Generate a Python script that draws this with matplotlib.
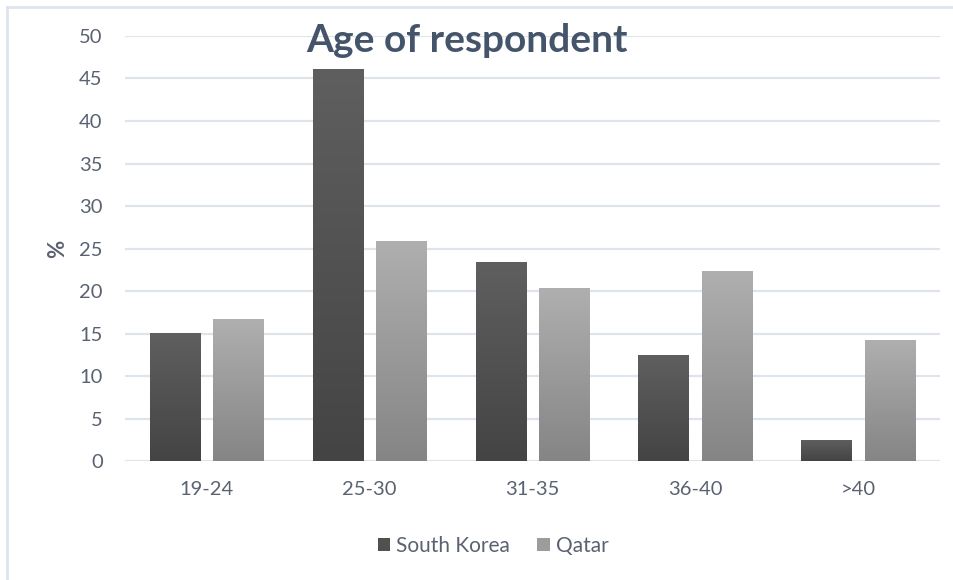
import numpy as np
import matplotlib
matplotlib.use("Agg")
import matplotlib.pyplot as plt
from matplotlib.lines import Line2D
from matplotlib.patches import Patch
from matplotlib.colors import LinearSegmentedColormap

plt.rcParams['font.family'] = ['Lato', 'DejaVu Sans']

# 数据
categories = ["19-24", "25-30", "31-35", "36-40", ">40"]
south_korea = [15.1, 46.1, 23.4, 12.5, 2.5]
qatar = [16.7, 25.9, 20.3, 22.4, 14.3]

TEXT = "#5a6272"
GRID = "#dfe4ec"

fig = plt.figure(figsize=(9.54, 5.8), dpi=100)
ax = fig.add_axes([0.131, 0.205, 0.854, 0.733])

x = np.arange(len(categories))
w = 0.307
off = 0.195

cm_sk = LinearSegmentedColormap.from_list("sk", ["#444444", "#5f5f5f"])
cm_qa = LinearSegmentedColormap.from_list("qa", ["#858585", "#afafaf"])
grad = np.linspace(0, 1, 256).reshape(-1, 1)

def grad_bars(xs, vals, cmap):
    bars = ax.bar(xs, vals, width=w, facecolor="none", edgecolor="none", zorder=3)
    for b in bars:
        x0, y0 = b.get_x(), b.get_y()
        im = ax.imshow(grad, cmap=cmap, origin="lower", aspect="auto",
                       extent=[x0, x0 + b.get_width(), y0, y0 + b.get_height()],
                       zorder=3, interpolation="bicubic")
        im.set_clip_path(b)
    return bars

grad_bars(x - off, south_korea, cm_sk)
grad_bars(x + off, qatar, cm_qa)

ax.set_xlim(-0.5, len(categories) - 0.5)
ax.set_ylim(0, 50)
ax.set_yticks(range(0, 51, 5))
ax.set_xticks(x)
ax.set_xticklabels(categories)
ax.yaxis.grid(True, color=GRID, linewidth=1.6, zorder=0)
ax.set_axisbelow(True)
for s in ax.spines.values():
    s.set_visible(False)
ax.tick_params(length=0, labelsize=14.5, colors=TEXT)
ax.tick_params(axis="x", pad=14)
ax.tick_params(axis="y", pad=16)
ax.set_ylabel("%", fontsize=16, fontweight="bold", color=TEXT, labelpad=8)

fig.text(0.49, 0.93, "Age of respondent", ha="center", va="center",
         fontsize=28, fontweight="bold", color="#44546a")

handles = [Patch(facecolor="#505050", label="South Korea"),
           Patch(facecolor="#9c9c9c", label="Qatar")]
fig.legend(handles=handles, loc="center", bbox_to_anchor=(0.517, 0.059), ncol=2,
           frameon=False, fontsize=15, labelcolor=TEXT, handlelength=0.6,
           handleheight=0.6, handletextpad=0.3, columnspacing=1.3)

# 外框
fig.add_artist(Line2D([7 / 954, 7 / 954], [0, 1 - 7 / 580], color=GRID, linewidth=2,
                      transform=fig.transFigure))
fig.add_artist(Line2D([7 / 954, 1], [1 - 7 / 580, 1 - 7 / 580], color=GRID, linewidth=2,
                      transform=fig.transFigure))

fig.savefig("out.png", dpi=100)
